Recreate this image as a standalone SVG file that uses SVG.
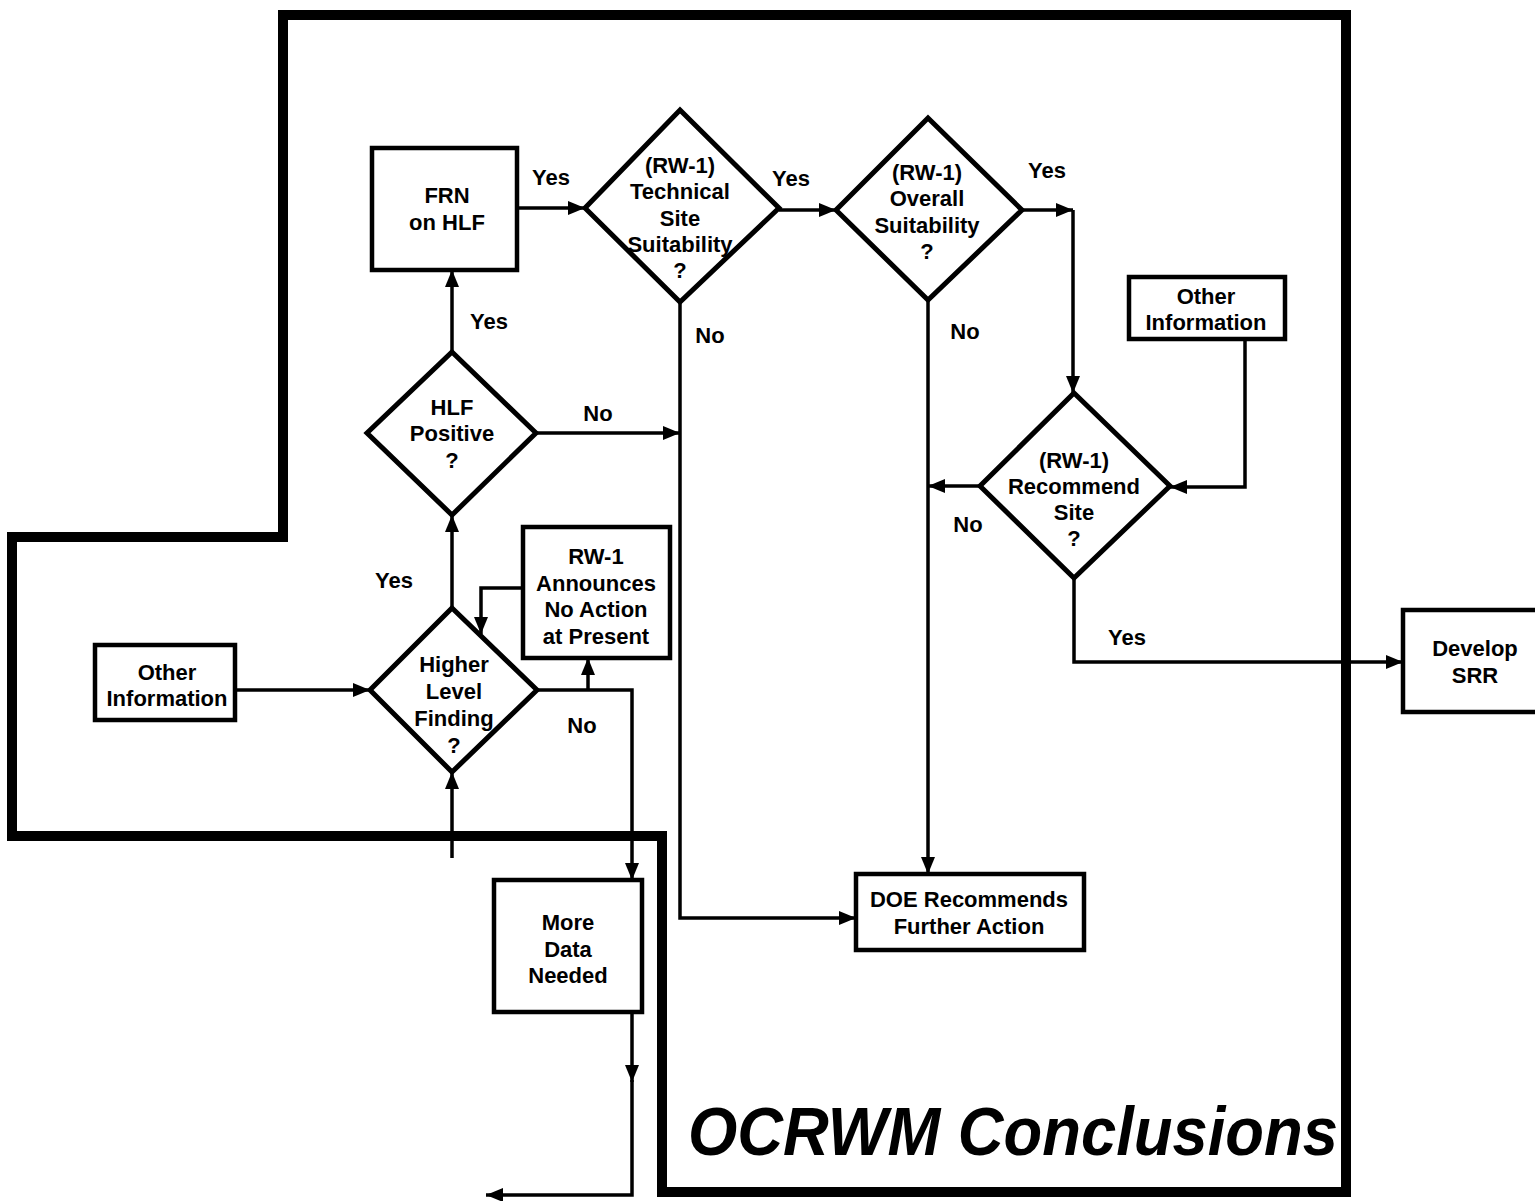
<svg xmlns="http://www.w3.org/2000/svg" width="1535" height="1201" viewBox="0 0 1535 1201">
<style>
.box{fill:#fff;stroke:#000;stroke-width:4.5}
.dia{fill:#fff;stroke:#000;stroke-width:5;stroke-linejoin:miter}
.t{font-family:"Liberation Sans",Arial,sans-serif;font-weight:bold;font-size:22px;fill:#000;text-anchor:middle}
.lbl{font-family:"Liberation Sans",Arial,sans-serif;font-weight:bold;font-size:22px;fill:#000;text-anchor:middle}
.c{fill:none;stroke:#000;stroke-width:3.5}
.title{font-family:"Liberation Sans",Arial,sans-serif;font-weight:bold;font-style:italic;font-size:68px;fill:#000}
</style>
<defs>
<marker id="a" markerUnits="userSpaceOnUse" markerWidth="17" markerHeight="14" refX="17" refY="7" orient="auto">
<path d="M0,0 L17,7 L0,14 z" fill="#000"/>
</marker>
</defs>
<rect width="1535" height="1201" fill="#fff"/>
<g id="boundary">
<polygon points="283,15 1346,15 1346,1192 662,1192 662,836 12,836 12,537 283,537" fill="none" stroke="#000" stroke-width="10"/>
</g>
<g id="connectors">
<path class="c" d="M517,208 L585,208" marker-end="url(#a)"/>
<path class="c" d="M779,210 L836,210" marker-end="url(#a)"/>
<path class="c" d="M1022,210 L1073,210" marker-end="url(#a)"/>
<path class="c" d="M1073,210 L1073,393" marker-end="url(#a)"/>
<path class="c" d="M680,302 L680,918 L856,918" marker-end="url(#a)"/>
<path class="c" d="M536,433 L680,433" marker-end="url(#a)"/>
<path class="c" d="M452,352 L452,270" marker-end="url(#a)"/>
<path class="c" d="M928,300 L928,874" marker-end="url(#a)"/>
<path class="c" d="M980,486 L928,486" marker-end="url(#a)"/>
<path class="c" d="M1245,339 L1245,487 L1170,487" marker-end="url(#a)"/>
<path class="c" d="M1074,578 L1074,662 L1403,662" marker-end="url(#a)"/>
<path class="c" d="M452,608 L452,515" marker-end="url(#a)"/>
<path class="c" d="M235,690 L370,690" marker-end="url(#a)"/>
<path class="c" d="M523,588 L481,588 L481,634" marker-end="url(#a)"/>
<path class="c" d="M537,690 L632,690 L632,880" marker-end="url(#a)"/>
<path class="c" d="M588,690 L588,658" marker-end="url(#a)"/>
<path class="c" d="M452,858 L452,772" marker-end="url(#a)"/>
<path class="c" d="M632,1012 L632,1082" marker-end="url(#a)"/>
<path class="c" d="M632,1080 L632,1195 L486,1195" marker-end="url(#a)"/>
</g>
<g id="labels">
<text class="lbl" x="551" y="185">Yes</text>
<text class="lbl" x="791" y="186">Yes</text>
<text class="lbl" x="1047" y="178">Yes</text>
<text class="lbl" x="710" y="343">No</text>
<text class="lbl" x="965" y="339">No</text>
<text class="lbl" x="598" y="421">No</text>
<text class="lbl" x="489" y="329">Yes</text>
<text class="lbl" x="968" y="532">No</text>
<text class="lbl" x="1127" y="645">Yes</text>
<text class="lbl" x="394" y="588">Yes</text>
<text class="lbl" x="582" y="733">No</text>
</g>
<g id="frn">
<rect class="box" x="372" y="148" width="145" height="122"/>
<text class="t" x="447" y="203">FRN</text>
<text class="t" x="447" y="230">on HLF</text>
</g>
<g id="technical">
<polygon class="dia" points="680,110 779,208 680,302 585,208"/>
<text class="t" x="680" y="173">(RW-1)</text>
<text class="t" x="680" y="199">Technical</text>
<text class="t" x="680" y="226">Site</text>
<text class="t" x="680" y="252">Suitability</text>
<text class="t" x="680" y="278">?</text>
</g>
<g id="overall">
<polygon class="dia" points="928,118 1022,210 928,300 836,210"/>
<text class="t" x="927" y="180">(RW-1)</text>
<text class="t" x="927" y="206">Overall</text>
<text class="t" x="927" y="233">Suitability</text>
<text class="t" x="927" y="259">?</text>
</g>
<g id="hlf">
<polygon class="dia" points="452,352 536,433 452,515 367,433"/>
<text class="t" x="452" y="415">HLF</text>
<text class="t" x="452" y="441">Positive</text>
<text class="t" x="452" y="468">?</text>
</g>
<g id="higher">
<polygon class="dia" points="452,608 537,690 452,772 370,690"/>
<text class="t" x="454" y="672">Higher</text>
<text class="t" x="454" y="699">Level</text>
<text class="t" x="454" y="726">Finding</text>
<text class="t" x="454" y="753">?</text>
</g>
<g id="other-left">
<rect class="box" x="95" y="645" width="140" height="75"/>
<text class="t" x="167" y="680">Other</text>
<text class="t" x="167" y="706">Information</text>
</g>
<g id="rw1-announces">
<rect class="box" x="523" y="527" width="147" height="131"/>
<text class="t" x="596" y="564">RW-1</text>
<text class="t" x="596" y="591">Announces</text>
<text class="t" x="596" y="617">No Action</text>
<text class="t" x="596" y="644">at Present</text>
</g>
<g id="other-right">
<rect class="box" x="1129" y="277" width="156" height="62"/>
<text class="t" x="1206" y="304">Other</text>
<text class="t" x="1206" y="330">Information</text>
</g>
<g id="recommend">
<polygon class="dia" points="1074,393 1170,486 1074,578 980,486"/>
<text class="t" x="1074" y="468">(RW-1)</text>
<text class="t" x="1074" y="494">Recommend</text>
<text class="t" x="1074" y="520">Site</text>
<text class="t" x="1074" y="546">?</text>
</g>
<g id="doe">
<rect class="box" x="856" y="874" width="228" height="76"/>
<text class="t" x="969" y="907">DOE Recommends</text>
<text class="t" x="969" y="934">Further Action</text>
</g>
<g id="more-data">
<rect class="box" x="494" y="880" width="148" height="132"/>
<text class="t" x="568" y="930">More</text>
<text class="t" x="568" y="957">Data</text>
<text class="t" x="568" y="983">Needed</text>
</g>
<g id="develop-srr">
<rect class="box" x="1403" y="610" width="145" height="102"/>
<text class="t" x="1475" y="656">Develop</text>
<text class="t" x="1475" y="683">SRR</text>
</g>
<g id="title">
<text class="title" x="688" y="1155" textLength="650" lengthAdjust="spacingAndGlyphs">OCRWM Conclusions</text>
</g>
</svg>
